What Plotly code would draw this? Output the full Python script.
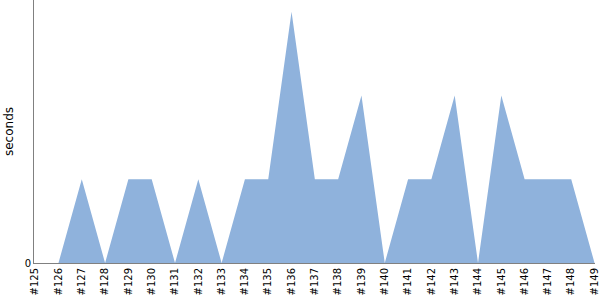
import plotly.graph_objects as go

builds = ["#125", "#126", "#127", "#128", "#129", "#130", "#131", "#132", "#133",
          "#134", "#135", "#136", "#137", "#138", "#139", "#140", "#141", "#142",
          "#143", "#144", "#145", "#146", "#147", "#148", "#149"]
seconds = [0, 0, 1, 0, 1, 1, 0, 1, 0, 1, 1, 3, 1, 1, 2, 0, 1, 1, 2, 0, 2, 1, 1, 1, 0]

xs = list(range(len(builds)))

fig = go.Figure()
fig.add_trace(go.Scatter(
    x=xs, y=seconds, mode="lines", fill="tozeroy",
    line=dict(width=0, color="#8fb2dc"), fillcolor="#8fb2dc",
    hoverinfo="skip",
))
fig.update_layout(
    width=600, height=300,
    margin=dict(l=34, r=5, t=0, b=37),
    paper_bgcolor="white", plot_bgcolor="white",
    showlegend=False,
    font=dict(family="DejaVu Sans", size=10, color="black"),
    xaxis=dict(
        range=[-0.05, 24.02], tickmode="array", tickvals=xs, ticktext=builds,
        tickangle=-90, showgrid=False, zeroline=False,
        showline=True, linecolor="#808080", linewidth=1, ticks="",
        tickfont=dict(size=10), ticklabeloverflow="allow",
    ),
    yaxis=dict(
        range=[0, 3.14], tickmode="array", tickvals=[0], ticktext=["0"],
        showgrid=False, zeroline=False, showline=True, linecolor="#808080",
        linewidth=1, ticks="", title=dict(text="seconds", font=dict(size=12), standoff=8),
        tickfont=dict(size=10),
    ),
)
fig.write_html("out.html")
